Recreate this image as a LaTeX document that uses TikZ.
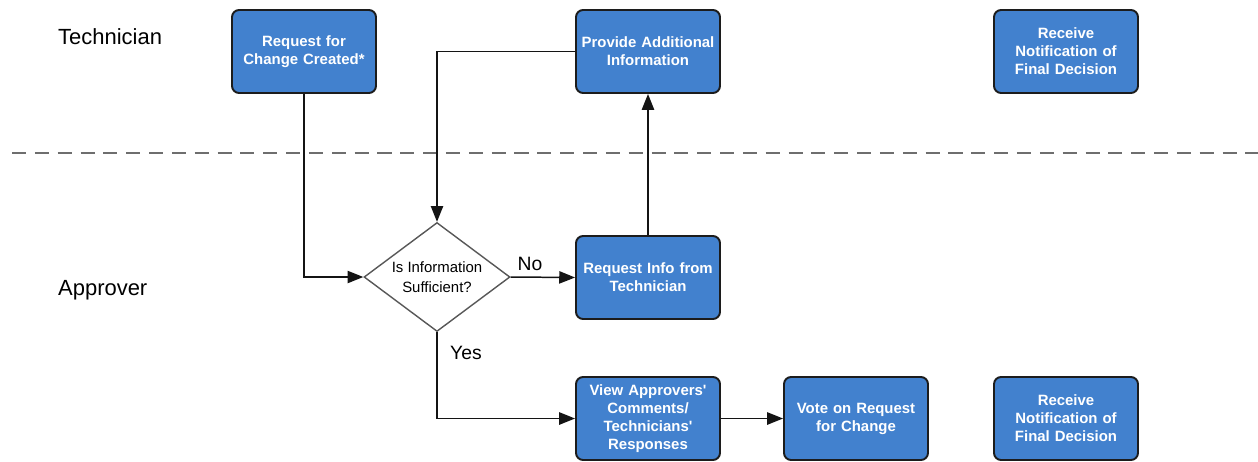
\documentclass[tikz,border=0pt]{standalone}
\usepackage{fontspec}
\setmainfont{Liberation Sans}
\usetikzlibrary{shapes.geometric,arrows.meta}
\definecolor{boxblue}{RGB}{66,129,206}
\definecolor{boxline}{RGB}{28,28,28}
\definecolor{flowline}{RGB}{20,20,20}
\definecolor{lanegray}{RGB}{110,110,110}

\begin{document}
\begin{tikzpicture}[>={Triangle[length=9pt,width=7pt]},x=0.02cm,y=-0.02cm,
  box/.style={draw=boxline,line width=1.1pt,fill=boxblue,rounded corners=4pt,
    minimum width=2.88cm,minimum height=1.66cm,text width=2.7cm,align=center,
    inner sep=1pt,text=white,font=\bfseries\fontsize{8.5}{10.2}\selectfont},
  decision/.style={diamond,aspect=1.34,draw=lanegray!80!black,line width=0.8pt,
    fill=white,minimum width=2.92cm,minimum height=2.18cm,inner sep=0pt,
    align=center,font=\fontsize{8.5}{11}\selectfont},
  flow/.style={->,draw=flowline,line width=0.85pt},
  lane/.style={anchor=west,font=\fontsize{12.5}{15}\selectfont},
  answer/.style={font=\fontsize{11}{13}\selectfont}]
  %
  \useasboundingbox (0,0) rectangle (1258,461);
  %
  % Swim lanes
  \draw[lanegray,line width=0.9pt,dash pattern=on 8pt off 5pt] (12,153) -- (1258,153);
  \node[lane] (techlane) at (52,37) {Technician};
  \node[lane] (applane) at (52,290) {Approver};
  %
  % Technician steps
  \node[box] (rfc) at (304,51.5) {Request for\\Change Created*};
  \node[box] (provide) at (648,51.5) {Provide Additional\\Information};
  \node[box] (notifyT) at (1066,51.5) {Receive\\Notification of\\Final Decision};
  %
  % Approver steps
  \node[decision] (check) at (437,277) {Is Information\\Sufficient?};
  \node[box] (reqinfo) at (648,277.5) {Request Info from\\Technician};
  \node[box] (view) at (648,418.5)
    {View Approvers\textquotesingle\\Comments/\\Technicians\textquotesingle\\Responses};
  \node[box] (vote) at (856,418.5) {Vote on Request\\for Change};
  \node[box] (notifyA) at (1066,418.5) {Receive\\Notification of\\Final Decision};
  %
  % Connectors
  \draw[flow] (rfc.south) |- (check.west);
  \draw[flow] (provide.west) -| (check.north);
  \draw[flow] (check.east) -- (reqinfo.west)
    node[answer,pos=0.3,above] (no) {No};
  \draw[flow] (reqinfo.north) -- (provide.south);
  \draw[flow] (check.south) |- (view.west);
  \node[answer] (yes) at (466,353) {Yes};
  \draw[flow] (view.east) -- (vote.west);
  %
\end{tikzpicture}
\end{document}
